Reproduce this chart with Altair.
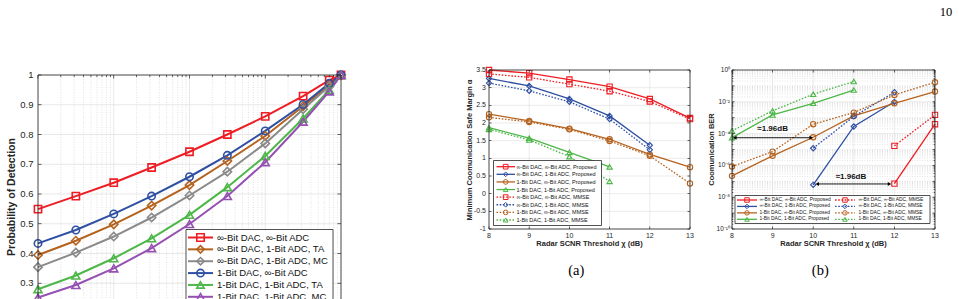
import altair as alt
import pandas as pd

FONT = "Liberation Sans"
SERIF = "Liberation Serif"
INK = "#262626"
GRID = "#dedede"
MINOR = "#cccccc"

RED = "#ee1d23"
BLUE = "#2f4fa2"
BROWN = "#b5621e"
GRAY = "#8a8a8a"
GREEN = "#4db748"
PURPLE = "#9550b2"

# ---------------- left panel: probability of detection vs. false-alarm probability ----------------
pfa = [0.0001, 0.000316, 0.001, 0.00316, 0.01, 0.0316, 0.1, 0.316, 0.7, 1.0]
pd_inf_inf = [0.549, 0.593, 0.638, 0.689, 0.742, 0.800, 0.861, 0.929, 0.983, 1.0]
pd_inf_1_ta = [0.395, 0.443, 0.498, 0.561, 0.630, 0.711, 0.795, 0.895, 0.966, 1.0]
pd_inf_1_mc = [0.354, 0.403, 0.457, 0.521, 0.595, 0.675, 0.770, 0.885, 0.962, 1.0]
pd_1_inf = [0.434, 0.479, 0.533, 0.593, 0.658, 0.730, 0.812, 0.901, 0.972, 1.0]
pd_1_1_ta = [0.280, 0.326, 0.384, 0.451, 0.530, 0.623, 0.728, 0.854, 0.950, 1.0]
pd_1_1_mc = [0.252, 0.294, 0.350, 0.418, 0.499, 0.593, 0.707, 0.843, 0.945, 1.0]

roc_names = [
    "∞-Bit DAC, ∞-Bit ADC",
    "∞-Bit DAC, 1-Bit ADC, TA",
    "∞-Bit DAC, 1-Bit ADC, MC",
    "1-Bit DAC, ∞-Bit ADC",
    "1-Bit DAC, 1-Bit ADC, TA",
    "1-Bit DAC, 1-Bit ADC, MC",
]
roc_values = [pd_inf_inf, pd_inf_1_ta, pd_inf_1_mc, pd_1_inf, pd_1_1_ta, pd_1_1_mc]
roc_style = [  # colour, marker, marker area
    (RED, "square", 52), (BROWN, "diamond", 70), (GRAY, "diamond", 70),
    (BLUE, "circle", 55), (GREEN, "triangle-up", 64), (PURPLE, "triangle-up", 64),
]
roc_yticks = [0.2, 0.3, 0.4, 0.5, 0.6, 0.7, 0.8, 0.9, 1.0]
roc_label_ticks = [0.3, 0.4, 0.5, 0.6, 0.7, 0.8, 0.9, 1.0]
roc_ytick_text = ["0.3", "0.4", "0.5", "0.6", "0.7", "0.8", "0.9", "1"]
roc_decades = [0.0001, 0.001, 0.01, 0.1, 1.0]

# ---------------- (a): minimum communication safe margin ----------------
snr = [8, 9, 10, 11, 12, 13]
snr_text = ["8", "9", "10", "11", "12", "13"]
margin_names = [
    "∞-Bit DAC, ∞-Bit ADC, Proposed", "∞-Bit DAC, 1-Bit ADC, Proposed",
    "1-Bit DAC, ∞-Bit ADC, Proposed", "1-Bit DAC, 1-Bit ADC, Proposed",
    "∞-Bit DAC, ∞-Bit ADC, MMSE", "∞-Bit DAC, 1-Bit ADC, MMSE",
    "1-Bit DAC, ∞-Bit ADC, MMSE", "1-Bit DAC, 1-Bit ADC, MMSE",
]
margin_inf_inf_prop = [3.50, 3.41, 3.23, 3.03, 2.68, 2.14]
margin_inf_1_prop = [3.26, 3.05, 2.68, 2.20, 1.37]
margin_1_inf_prop = [2.25, 2.06, 1.84, 1.54, 1.11, 0.75]
margin_1_1_prop = [1.87, 1.57, 1.17, 0.76]
margin_inf_inf_mmse = [3.39, 3.29, 3.10, 2.90, 2.61, 2.11]
margin_inf_1_mmse = [3.13, 2.91, 2.60, 2.11, 1.24]
margin_1_inf_mmse = [2.16, 2.03, 1.82, 1.49, 1.07, 0.29]
margin_1_1_mmse = [1.82, 1.52, 1.05, 0.35]
margin_values = [margin_inf_inf_prop, margin_inf_1_prop, margin_1_inf_prop, margin_1_1_prop,
                 margin_inf_inf_mmse, margin_inf_1_mmse, margin_1_inf_mmse, margin_1_1_mmse]
margin_yticks = [-1, -0.5, 0, 0.5, 1, 1.5, 2, 2.5, 3, 3.5]
margin_ytick_text = ["-1", "-0.5", "0", "0.5", "1", "1.5", "2", "2.5", "3", "3.5"]

# ---------------- (b): communication BER ----------------
ber_inf_inf_prop = [None, None, None, None, 7.1e-8, 3.9e-4]
ber_inf_1_prop = [None, None, 6.0e-8, 2.8e-4, 1.0e-2, None]
ber_1_inf_prop = [2.2e-7, 4.0e-6, 5.9e-5, 1.3e-3, 8.1e-3, 4.4e-2]
ber_1_1_prop = [5.6e-5, 1.5e-3, 8.1e-3, 5.5e-2, None, None]
ber_inf_inf_mmse = [None, None, None, None, 1.7e-5, 1.5e-3]
ber_inf_1_mmse = [None, None, 1.2e-5, 1.2e-3, 4.0e-2, None]
ber_1_inf_mmse = [8.5e-7, 7.4e-6, 3.9e-4, 2.1e-3, 2.7e-2, 1.7e-1]
ber_1_1_mmse = [1.5e-4, 2.7e-3, 3.0e-2, 1.9e-1, None, None]
ber_values = [ber_inf_inf_prop, ber_inf_1_prop, ber_1_inf_prop, ber_1_1_prop,
              ber_inf_inf_mmse, ber_inf_1_mmse, ber_1_inf_mmse, ber_1_1_mmse]
ber_decades = [1e-10, 1e-9, 1e-8, 1e-7, 1e-6, 1e-5, 1e-4, 1e-3, 1e-2, 1e-1, 1.0]
ber_yticks = [1e-10, 1e-8, 1e-6, 1e-4, 1e-2, 1.0]
ber_ytick_text = ["10⁻¹⁰", "10⁻⁸", "10⁻⁶", "10⁻⁴", "10⁻²", "10⁰"]
gap_x0 = [8.07, 10.1]
gap_x1 = [9.95, 11.88]
gap_y = [5.5e-5, 6.8e-8]
gap_text = ["≈1.96dB", "≈1.96dB"]
gap_tx = [9.0, 10.93]
gap_ty = [1.9e-4, 2.0e-7]

method_style = [  # colour, marker
    (RED, "square"), (BLUE, "diamond"), (BROWN, "circle"), (GREEN, "triangle-up"),
]

one = pd.DataFrame({"k": [0]})


def minor_log(decades):
    return [m * d for d in decades[:-1] for m in range(2, 10)]


# ---------------- shared helpers ----------------
def xq(field, scale):
    return alt.X(field, type="quantitative", scale=scale, axis=None)


def yq(field, scale):
    return alt.Y(field, type="quantitative", scale=scale, axis=None)


def xd(value, scale):
    return alt.XDatum(value, scale=scale, axis=None, type="quantitative")


def yd(value, scale):
    return alt.YDatum(value, scale=scale, axis=None, type="quantitative")


def vgrid(values, xs, ys, ydom, color, dash=None, width=0.6):
    kw = {"strokeDash": dash} if dash else {}
    return alt.Chart(pd.DataFrame({"g": values})).mark_rule(color=color, strokeWidth=width, **kw).encode(
        x=xq("g", xs), y=yd(ydom[0], ys), y2=alt.Y2Datum(ydom[1]))


def hgrid(values, xs, ys, xdom, color, dash=None, width=0.6):
    kw = {"strokeDash": dash} if dash else {}
    return alt.Chart(pd.DataFrame({"g": values})).mark_rule(color=color, strokeWidth=width, **kw).encode(
        y=yq("g", ys), x=xd(xdom[0], xs), x2=alt.X2Datum(xdom[1]))


def frame(xs, ys, xdom, ydom):
    return alt.Chart(one).mark_rect(fillOpacity=0, stroke=INK, strokeWidth=0.8).encode(
        x=xd(xdom[0], xs), x2=alt.X2Datum(xdom[1]), y=yd(ydom[0], ys), y2=alt.Y2Datum(ydom[1]))


def yticks(values, xs, ys, xdom, length):
    df = pd.DataFrame({"t": values})
    out = []
    for xv, off in ((xdom[0], length / 2), (xdom[1], -length / 2)):
        out.append(alt.Chart(df).mark_tick(orient="horizontal", size=length, thickness=0.7,
                                           color=INK, xOffset=off, opacity=1).encode(
            x=xd(xv, xs), y=yq("t", ys)))
    return out


def xticks(values, xs, ys, ydom, length):
    df = pd.DataFrame({"t": values})
    out = []
    for yv, off in ((ydom[0], -length / 2), (ydom[1], length / 2)):
        out.append(alt.Chart(df).mark_tick(orient="vertical", size=length, thickness=0.7,
                                           color=INK, yOffset=off, opacity=1).encode(
            y=yd(yv, ys), x=xq("t", xs)))
    return out


def ylabels(values, texts, xs, ys, xmin, size, pad):
    df = pd.DataFrame({"t": values, "lab": texts})
    return alt.Chart(df).mark_text(align="right", baseline="middle", font=FONT, fontSize=size,
                                   color=INK, dx=-pad).encode(
        x=xd(xmin, xs), y=yq("t", ys), text="lab:N")


def xlabels(values, texts, xs, ys, ymin, size, pad):
    df = pd.DataFrame({"t": values, "lab": texts})
    return alt.Chart(df).mark_text(align="center", baseline="top", font=FONT, fontSize=size,
                                   color=INK, dy=pad).encode(
        x=xq("t", xs), y=yd(ymin, ys), text="lab:N")


def title_text(text, x, y, size, angle=0):
    kw = {"angle": angle} if angle else {}
    return alt.Chart(pd.DataFrame({"t": [text]})).mark_text(
        font=FONT, fontSize=size, fontWeight="bold", color=INK, align="center",
        baseline="middle", **kw).encode(x=alt.value(x), y=alt.value(y), text="t:N")


def legend(df, box, yrange, cols, font_size, line_width, marker_stroke, marker_size):
    ys = alt.Scale(domain=[0, int(df["row"].max())], range=yrange)
    y = alt.Y("row:Q", scale=ys, axis=None)
    layers = [alt.Chart(one).mark_rect(fill="white", stroke=INK, strokeWidth=0.8).encode(
        x=alt.value(box[0]), x2=alt.value(box[1]), y=alt.value(box[2]), y2=alt.value(box[3]))]
    for c, (x_line, x_mark, x_text) in enumerate(cols):
        sub = df[df["col"] == c]
        base = alt.Chart(sub)
        for dashed in (False, True):
            part = sub[sub["dotted"] == dashed]
            if part.empty:
                continue
            kw = {"strokeDash": [1.6, 1.6]} if dashed else {}
            layers.append(alt.Chart(part).mark_rule(strokeWidth=line_width, **kw).encode(
                x=alt.value(x_line[0]), x2=alt.value(x_line[1]), y=y,
                color=alt.Color("color:N", scale=None)))
        layers.append(base.mark_point(filled=False, strokeWidth=marker_stroke, opacity=1,
                                      size=marker_size).encode(
            x=alt.value(x_mark), y=y,
            color=alt.Color("color:N", scale=None), shape=alt.Shape("shape:N", scale=None)))
        layers.append(base.mark_text(align="left", baseline="middle", font=FONT,
                                     fontSize=font_size, color="#111111").encode(
            x=alt.value(x_text), y=y, text="label:N"))
    return alt.layer(*layers)


# ---------------- left panel ----------------
xL = alt.Scale(type="log", domain=[1e-4, 1.0], range=[38, 341])
yL = alt.Scale(domain=[0.2, 1.0], range=[313, 75], nice=False, zero=False)

roc_rows = []
for i, (name, vals) in enumerate(zip(roc_names, roc_values)):
    col, shp, sz = roc_style[i]
    for x, v in zip(pfa, vals):
        roc_rows.append({"series": name, "pfa": x, "pd": v, "color": col, "shape": shp, "msize": sz})
roc_df = pd.DataFrame(roc_rows)

roc_lines = alt.Chart(roc_df).mark_line(strokeWidth=2).encode(
    x=xq("pfa", xL), y=yq("pd", yL),
    color=alt.Color("color:N", scale=None), detail="series:N")
roc_points = alt.Chart(roc_df).mark_point(filled=False, strokeWidth=1.6, opacity=1).encode(
    x=xq("pfa", xL), y=yq("pd", yL),
    color=alt.Color("color:N", scale=None), shape=alt.Shape("shape:N", scale=None),
    size=alt.Size("msize:Q", scale=None))

panel_left = alt.layer(
    vgrid(minor_log(roc_decades), xL, yL, [0.2, 1.0], MINOR, dash=[1, 1.5], width=0.6),
    vgrid(roc_decades, xL, yL, [0.2, 1.0], GRID, width=0.7),
    hgrid(roc_yticks, xL, yL, [1e-4, 1.0], GRID, width=0.7),
    roc_lines, roc_points,
    frame(xL, yL, [1e-4, 1.0], [0.2, 1.0]),
    *yticks(roc_yticks, xL, yL, [1e-4, 1.0], 3.5),
    *xticks(roc_decades, xL, yL, [0.2, 1.0], 3.5),
    *xticks(minor_log(roc_decades), xL, yL, [0.2, 1.0], 2),
    ylabels(roc_label_ticks, roc_ytick_text, xL, yL, 1e-4, 9.5, 4.5),
)

roc_leg = pd.DataFrame({
    "row": list(range(6)), "col": [0] * 6, "label": roc_names, "dotted": [False] * 6,
    "color": [s[0] for s in roc_style], "shape": [s[1] for s in roc_style],
})
legend_left = legend(roc_leg, (186, 333, 229.5, 330), [237.5, 296.8],
                     [((188, 213), 200.5, 217)], 9.5, 2, 1.6, 55)

# ---------------- (a) ----------------
xA = alt.Scale(domain=[8, 13], range=[489, 690], nice=False, zero=False)
yA = alt.Scale(domain=[-1, 3.5], range=[229, 70], nice=False, zero=False)

m_rows = []
for i, (name, vals) in enumerate(zip(margin_names, margin_values)):
    col, shp = method_style[i % 4]
    for x, v in zip(snr, vals):
        m_rows.append({"series": name, "snr": x, "margin": v, "color": col, "shape": shp,
                       "dotted": i >= 4})
m_df = pd.DataFrame(m_rows)

a_solid = alt.Chart(m_df[~m_df["dotted"]]).mark_line(strokeWidth=1.3).encode(
    x=xq("snr", xA), y=yq("margin", yA),
    color=alt.Color("color:N", scale=None), detail="series:N")
a_dotted = alt.Chart(m_df[m_df["dotted"]]).mark_line(strokeWidth=1.3, strokeDash=[1.6, 1.6]).encode(
    x=xq("snr", xA), y=yq("margin", yA),
    color=alt.Color("color:N", scale=None), detail="series:N")
a_points = alt.Chart(m_df).mark_point(filled=False, strokeWidth=1.1, opacity=1, size=28).encode(
    x=xq("snr", xA), y=yq("margin", yA),
    color=alt.Color("color:N", scale=None), shape=alt.Shape("shape:N", scale=None))

panel_a = alt.layer(
    vgrid(snr, xA, yA, [-1, 3.5], GRID, width=0.6),
    hgrid(margin_yticks, xA, yA, [8, 13], GRID, width=0.6),
    a_solid, a_dotted, a_points,
    frame(xA, yA, [8, 13], [-1, 3.5]),
    *yticks(margin_yticks, xA, yA, [8, 13], 2.5),
    *xticks(snr, xA, yA, [-1, 3.5], 2.5),
    ylabels(margin_yticks, margin_ytick_text, xA, yA, 8, 7, 3),
    xlabels(snr, snr_text, xA, yA, -1, 7, 2.5),
)

a_leg = pd.DataFrame({
    "row": list(range(8)), "col": [0] * 8, "label": margin_names,
    "dotted": [i >= 4 for i in range(8)],
    "color": [method_style[i % 4][0] for i in range(8)],
    "shape": [method_style[i % 4][1] for i in range(8)],
})
legend_a = legend(a_leg, (493.5, 601.5, 160.5, 225.5), [166.7, 220],
                  [((496.5, 515), 505.7, 516.5)], 5.5, 1.3, 1.0, 22)

# ---------------- (b) ----------------
xB = alt.Scale(domain=[8, 13], range=[732, 935], nice=False, zero=False)
yB = alt.Scale(type="log", domain=[1e-10, 1.0], range=[229, 70])

b_rows = []
for i, (name, vals) in enumerate(zip(margin_names, ber_values)):
    col, shp = method_style[i % 4]
    for x, v in zip(snr, vals):
        if v is not None:
            b_rows.append({"series": name, "snr": x, "ber": v, "color": col, "shape": shp,
                           "dotted": i >= 4})
b_df = pd.DataFrame(b_rows)

b_solid = alt.Chart(b_df[~b_df["dotted"]]).mark_line(strokeWidth=1.3).encode(
    x=xq("snr", xB), y=yq("ber", yB),
    color=alt.Color("color:N", scale=None), detail="series:N")
b_dotted = alt.Chart(b_df[b_df["dotted"]]).mark_line(strokeWidth=1.3, strokeDash=[1.6, 1.6]).encode(
    x=xq("snr", xB), y=yq("ber", yB),
    color=alt.Color("color:N", scale=None), detail="series:N")
b_points = alt.Chart(b_df).mark_point(filled=False, strokeWidth=1.1, opacity=1, size=28).encode(
    x=xq("snr", xB), y=yq("ber", yB),
    color=alt.Color("color:N", scale=None), shape=alt.Shape("shape:N", scale=None))

gap_df = pd.DataFrame({"x0": gap_x0, "x1": gap_x1, "y": gap_y, "label": gap_text,
                       "tx": gap_tx, "ty": gap_ty})
gap_rule = alt.Chart(gap_df).mark_rule(color="#000000", strokeWidth=0.9).encode(
    x=xq("x0", xB), x2="x1:Q", y=yq("y", yB))
gap_left = alt.Chart(gap_df).mark_point(shape="triangle-left", filled=True, color="#000000",
                                        size=16, opacity=1).encode(x=xq("x0", xB), y=yq("y", yB))
gap_right = alt.Chart(gap_df).mark_point(shape="triangle-right", filled=True, color="#000000",
                                         size=16, opacity=1).encode(x=xq("x1", xB), y=yq("y", yB))
gap_label = alt.Chart(gap_df).mark_text(font=FONT, fontSize=8, fontWeight="bold", color="#111111",
                                        baseline="middle").encode(
    x=xq("tx", xB), y=yq("ty", yB), text="label:N")

panel_b = alt.layer(
    hgrid(minor_log(ber_decades), xB, yB, [8, 13], MINOR, dash=[1, 1.5], width=0.5),
    hgrid([d for d in ber_decades if d not in ber_yticks], xB, yB, [8, 13], MINOR, dash=[1, 1.5], width=0.6),
    hgrid(ber_yticks, xB, yB, [8, 13], GRID, width=0.6),
    vgrid(snr, xB, yB, [1e-10, 1.0], GRID, width=0.6),
    b_solid, b_dotted, b_points,
    gap_rule, gap_left, gap_right, gap_label,
    frame(xB, yB, [8, 13], [1e-10, 1.0]),
    *yticks(ber_decades, xB, yB, [8, 13], 2.5),
    *yticks(minor_log(ber_decades), xB, yB, [8, 13], 1.3),
    *xticks(snr, xB, yB, [1e-10, 1.0], 2.5),
    ylabels(ber_yticks, ber_ytick_text, xB, yB, 8, 6.5, 2),
    xlabels(snr, snr_text, xB, yB, 1e-10, 7, 2.5),
)

b_leg = pd.DataFrame({
    "row": [i % 4 for i in range(8)], "col": [i // 4 for i in range(8)], "label": margin_names,
    "dotted": [i >= 4 for i in range(8)],
    "color": [method_style[i % 4][0] for i in range(8)],
    "shape": [method_style[i % 4][1] for i in range(8)],
})
legend_b = legend(b_leg, (735, 930, 195.5, 223.5), [200, 219.3],
                  [((737, 757), 747, 759.5), ((835, 855), 845, 858.5)], 4.9, 1.3, 1.0, 20)


# ---------------- axis titles and page text ----------------
def page_text(text, x, y, size):
    return alt.Chart(pd.DataFrame({"t": [text]})).mark_text(
        font=SERIF, fontSize=size, color="#000000", align="center", baseline="middle").encode(
        x=alt.value(x), y=alt.value(y), text="t:N")


texts = alt.layer(
    title_text("Probability of Detection", 11.5, 197, 10.5, angle=270),
    title_text("Minimum Coomunication Safe Margin α", 470, 150, 7.5, angle=270),
    title_text("Radar SCNR Threshold χ (dB)", 589.5, 244.3, 7.5),
    title_text("Coomunication BER", 711.7, 149.5, 7.5, angle=270),
    title_text("Radar SCNR Threshold χ (dB)", 833.5, 244.3, 7.5),
    page_text("10", 946, 12, 12.5),
    page_text("(a)", 576.2, 271, 14.5),
    page_text("(b)", 820.3, 271, 14.5),
)

chart = alt.layer(
    panel_left, legend_left, panel_a, legend_a, panel_b, legend_b, texts,
).resolve_scale(x="independent", y="independent").properties(
    width=959, height=299, padding=0, autosize=alt.AutoSizeParams(type="none"),
).configure_view(stroke=None)

chart.save("out.html", embed_options={"renderer": "svg", "actions": False})
